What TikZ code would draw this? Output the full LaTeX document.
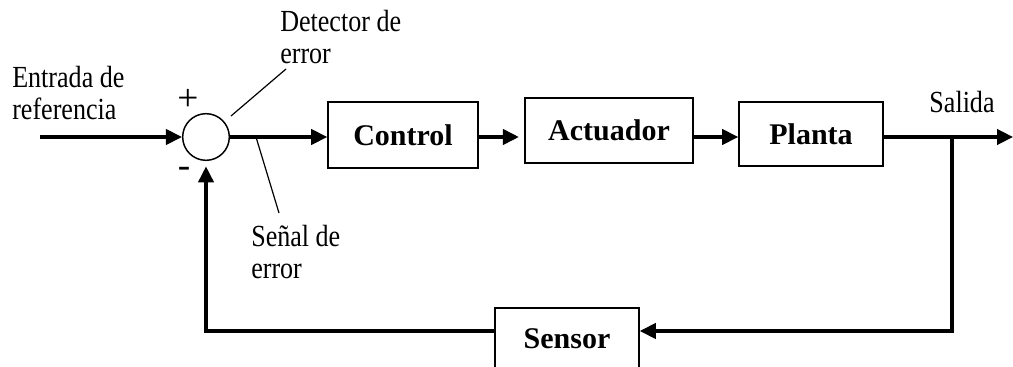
\documentclass[tikz,border=0pt]{standalone}
\usepackage{fontspec}
\setmainfont{Liberation Serif}
\newfontfamily\narrowserif{Liberation Serif}[FakeStretch=0.85]
\usetikzlibrary{arrows.meta}
\tikzstyle{block}=[draw, line width=1.2pt, inner sep=0pt, font=\fontsize{22.5}{26}\selectfont\bfseries]
\tikzstyle{sumnode}=[draw, circle, line width=1.1pt, minimum size=35pt, inner sep=0pt]
\tikzstyle{flow}=[line width=2.4pt, -{Triangle[length=12pt,width=11.5pt]}]
\tikzstyle{lead}=[line width=0.9pt]
\tikzstyle{lbl}=[align=left, inner sep=0pt, font=\narrowserif\fontsize{23}{23.5}\selectfont]
\tikzstyle{signs}=[inner sep=0pt, font=\fontsize{28}{28}\selectfont]

\begin{document}
\begin{tikzpicture}[x=0.75pt,y=-0.75pt]
        \useasboundingbox (0,0) rectangle (1013,367);
        % lazo
        \node [sumnode] (sum) at (206,137) {};
        \node [signs] (plus) at (188,100) {+};
        \node [signs] (minus) at (184,172) {-};
        \node [block, minimum width=112.5pt, minimum height=49.5pt] (ctrl) at (403,135) {Control};
        \node [block, minimum width=126pt, minimum height=48.75pt] (act) at (609,130.5) {Actuador};
        \node [block, minimum width=108pt, minimum height=48pt] (plant) at (811,134) {Planta};
        \node [block, minimum width=108pt, minimum height=46.5pt] (sens) at (567,339) {Sensor};
        \coordinate (in) at (40,137);
        \coordinate (out) at (1013,137);
        \coordinate (br) at (952,137);
        \draw [flow] (in) -- (sum.west);
        \draw [flow] (sum.east) -- (ctrl.west |- sum);
        \draw [flow, shorten >=4pt] (ctrl.east |- sum) -- (act.west |- sum);
        \draw [flow] (act.east |- sum) -- (plant.west |- sum);
        \draw [flow] (plant.east |- sum) -- (out);
        \draw [flow] (br) |- ([yshift=6pt]sens.east);
        \draw [flow, shorten >=4pt] ([yshift=6pt]sens.west) -| (sum.south);
        % etiquetas
        \node [lbl, anchor=west] (ref) at (12,93) {Entrada de\\referencia};
        \node [lbl, anchor=west] (det) at (280,37) {Detector de\\error};
        \node [lbl, anchor=west] (err) at (251,252) {Se\~nal de\\error};
        \node [lbl] (sal) at (962,102) {Salida};
        \coordinate (dfoot) at (286,69);
        \coordinate (ejoin) at (256,137);
        \coordinate (efoot) at (279,213);
        \draw [lead] ([shift={(25,-21)}]sum.center) -- (dfoot);
        \draw [lead] (ejoin) -- (efoot);
\end{tikzpicture}
\end{document}
